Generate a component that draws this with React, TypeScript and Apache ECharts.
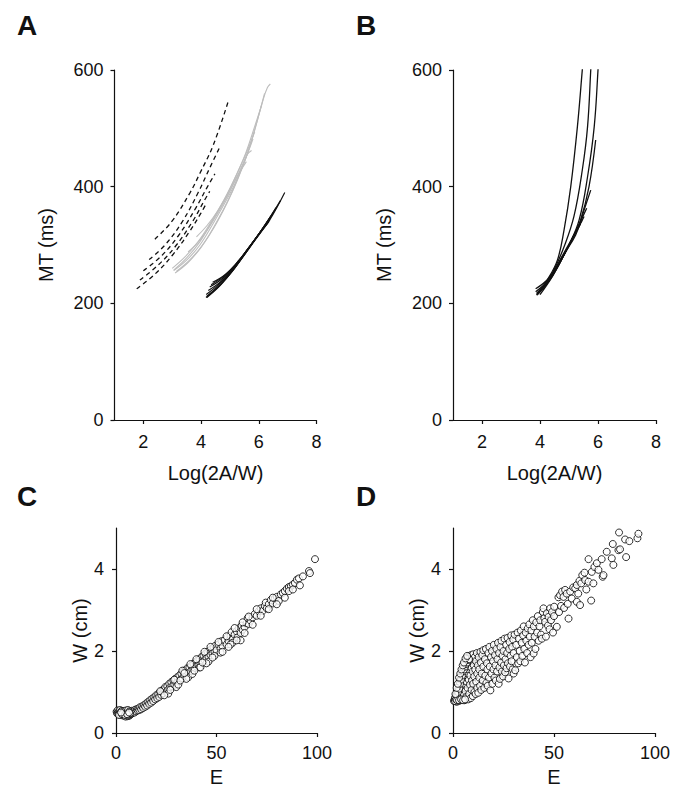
import React, { useEffect, useRef } from "react";
import * as echarts from "echarts";

const FONT = "'Liberation Sans', Arial, Helvetica, sans-serif";
const INK = "#111111";

// ---- Tick values ----
const mtTicks = [0, 200, 400, 600];
const logTicks = [2, 4, 6, 8];
const wTicks = [0, 2, 4];
const eTicks = [0, 50, 100];

// ---- Panel A: dashed curves [Log(2A/W), MT] ----
const aDashed1 = [[2.4, 310], [2.98, 340], [3.61, 389], [3.96, 423], [4.42, 471], [4.94, 546]];
const aDashed2 = [[2.2, 275], [2.75, 300], [3.35, 340], [3.9, 390], [4.3, 432], [4.65, 468]];
const aDashed3 = [[2.0, 256], [2.6, 280], [3.2, 315], [3.8, 362], [4.2, 398], [4.48, 422]];
const aDashed4 = [[1.88, 240], [2.5, 265], [3.1, 297], [3.7, 340], [4.1, 375], [4.3, 392]];
const aDashed5 = [[1.77, 225], [2.4, 250], [3.0, 282], [3.6, 323], [4.0, 355], [4.19, 372]];

// ---- Panel A: gray curves ----
const aGray1 = [[3.05, 256], [3.5, 274], [3.96, 300], [4.42, 337], [4.88, 377], [5.23, 411], [5.57, 451], [5.86, 497], [6.15, 549], [6.3, 570], [6.4, 576]];
const aGray2 = [[3.1, 252], [3.55, 270], [4.0, 296], [4.45, 330], [4.9, 372], [5.25, 410], [5.6, 456], [5.9, 505], [6.2, 560]];
const aGray3 = [[3.0, 260], [3.45, 280], [3.9, 306], [4.35, 340], [4.8, 378], [5.15, 412], [5.5, 450], [5.86, 494]];
const aGray4 = [[3.15, 255], [3.6, 274], [4.05, 300], [4.5, 336], [4.95, 378], [5.3, 418], [5.6, 455], [5.75, 462]];
const aGray5 = [[3.55, 288], [3.95, 308], [4.4, 340], [4.85, 378], [5.2, 413], [5.57, 443]];
const aGray6 = [[3.84, 314], [4.2, 333], [4.6, 360], [5.0, 393], [5.35, 428], [5.65, 462], [5.8, 482]];
const aGray7 = [[3.05, 257], [3.5, 278], [3.95, 305], [4.4, 342], [4.85, 382], [5.2, 418], [5.55, 458], [5.85, 502], [6.1, 540]];

// ---- Panel A: solid black curves ----
const aBlack1 = [[4.17, 210], [4.65, 231], [5.11, 257], [5.69, 297], [6.03, 320], [6.38, 343], [6.9, 390]];
const aBlack2 = [[4.2, 212], [4.7, 234], [5.15, 260], [5.7, 298], [6.1, 325], [6.38, 343]];
const aBlack3 = [[4.25, 222], [4.7, 238], [5.15, 262], [5.6, 292], [6.0, 318], [6.3, 338]];
const aBlack4 = [[4.3, 228], [4.75, 243], [5.2, 266], [5.65, 295], [6.05, 322], [6.4, 348]];
const aBlack5 = [[4.35, 232], [4.8, 247], [5.25, 270], [5.7, 298], [6.1, 326], [6.5, 355]];
const aBlack6 = [[4.4, 236], [4.85, 250], [5.3, 273], [5.75, 302], [6.2, 333], [6.6, 364]];
const aBlack7 = [[4.18, 215], [4.6, 232], [5.05, 255], [5.5, 283], [5.95, 315], [6.35, 344], [6.75, 376]];
const aBlack8 = [[4.2, 210], [4.65, 230], [5.1, 256], [5.6, 290], [6.0, 317], [6.35, 340]];

// ---- Panel B: black curves ----
const bCurve1 = [[3.88, 214], [4.25, 240], [4.6, 274], [4.83, 326], [5.06, 400], [5.29, 503], [5.46, 601], [5.5, 625]];
const bCurve2 = [[3.9, 216], [4.2, 232], [4.48, 257], [4.83, 297], [5.17, 349], [5.46, 429], [5.64, 503], [5.75, 600], [5.78, 630]];
const bCurve3 = [[3.92, 218], [4.3, 238], [4.6, 262], [5.0, 300], [5.35, 343], [5.64, 417], [5.87, 503], [6.0, 600], [6.02, 625]];
const bCurve4 = [[3.85, 220], [4.3, 240], [4.7, 272], [5.06, 305], [5.4, 343], [5.69, 400], [5.92, 480]];
const bCurve5 = [[3.9, 214], [4.3, 238], [4.77, 280], [5.23, 317], [5.52, 360], [5.75, 394]];
const bCurve6 = [[3.95, 218], [4.4, 245], [4.85, 285], [5.25, 325], [5.61, 363]];
const bCurve7 = [[3.85, 225], [4.3, 243], [4.8, 282], [5.2, 318], [5.52, 349]];
const bCurve8 = [[4.0, 215], [4.45, 248], [4.9, 290], [5.2, 320], [5.45, 342]];
const bCurve9 = [[3.88, 217], [4.35, 244], [4.8, 284], [5.15, 315], [5.4, 336]];

// ---- Panel C: [E, W (cm)] ----
const cPoints = [
  [0.3, 0.52], [0.5, 0.48], [0.8, 0.55], [1, 0.5], [1.2, 0.46], [1.5, 0.53], [1.8, 0.49], [2, 0.56], [2.2, 0.45], [2.5, 0.52],
  [2.8, 0.47], [3, 0.54], [3.2, 0.43], [3.5, 0.5], [3.8, 0.45], [4, 0.53], [4.2, 0.42], [4.5, 0.48], [4.8, 0.4], [5, 0.55],
  [5.2, 0.44], [5.5, 0.5], [5.8, 0.41], [6, 0.56], [6.2, 0.46], [6.5, 0.42], [6.8, 0.53], [7, 0.44], [7.2, 0.5], [7.5, 0.46],
  [7.8, 0.54], [8, 0.48], [8.3, 0.52], [8.6, 0.5], [9, 0.55], [9.3, 0.5], [9.6, 0.57], [10, 0.53], [10.4, 0.58], [10.8, 0.55],
  [11.2, 0.6], [11.6, 0.56], [12, 0.63], [12.5, 0.58], [13, 0.65], [13.5, 0.61], [14, 0.68], [14.5, 0.64], [15, 0.72], [15.5, 0.67],
  [16, 0.76], [16.5, 0.71], [17, 0.8], [17.5, 0.74], [18, 0.84], [18.5, 0.78], [19, 0.87], [19.5, 0.82], [20, 0.92], [20.5, 0.85],
  [21, 0.95], [21.5, 0.88], [22, 1.0], [22.5, 0.93], [23, 1.04], [23.5, 0.97], [24, 1.07], [24.5, 1.12], [25, 1.0], [25.5, 1.14],
  [26, 1.06], [26.5, 1.2], [27, 1.12], [27.5, 1.24], [28, 1.14], [28.5, 1.28], [29, 1.18], [29.5, 1.32], [30, 1.22], [30.5, 1.36],
  [31, 1.26], [31.5, 1.4], [32, 1.3], [32.5, 1.45], [33, 1.34], [33.5, 1.5], [34, 1.38], [34.5, 1.53], [35, 1.42], [35.5, 1.58],
  [36, 1.46], [36.5, 1.6], [37, 1.5], [37.5, 1.64], [38, 1.54], [38.5, 1.69], [39, 1.58], [39.5, 1.73], [40, 1.62], [40.5, 1.77],
  [41, 1.66], [41.5, 1.8], [42, 1.7], [42.5, 1.85], [43, 1.76], [43.5, 1.89], [44, 1.78], [44.5, 1.93], [45, 1.82], [45.5, 1.98],
  [46, 1.86], [46.5, 2.01], [47, 1.9], [47.5, 2.05], [48, 1.94], [48.5, 2.09], [49, 1.98], [49.5, 2.13], [50, 2.02], [51, 2.16],
  [52, 2.06], [52.5, 2.24], [53, 2.12], [54, 2.26], [55, 2.16], [55.5, 2.34], [56, 2.24], [57, 2.37], [57.5, 2.46], [58, 2.28],
  [59, 2.4], [60, 2.48], [60.5, 2.33], [61, 2.55], [62, 2.44], [62.5, 2.62], [63, 2.52], [64, 2.58], [65, 2.68], [65.5, 2.8],
  [66, 2.66], [67, 2.74], [68, 2.82], [69, 2.9], [70, 2.86], [71, 2.97], [72, 3.04], [73, 2.98], [74, 3.1], [74.5, 3.18],
  [75, 3.04], [76, 3.14], [77, 3.24], [78, 3.16], [79, 3.28], [80, 3.32], [81, 3.22], [82, 3.38], [83, 3.42], [84, 3.46],
  [85, 3.52], [86, 3.56], [87, 3.58], [88, 3.62], [89, 3.66], [90, 3.74], [91, 3.77], [91.5, 3.6], [93, 3.82], [96, 3.95],
  [96.5, 3.9], [99, 4.24], [41.5, 1.6], [46, 1.74], [52, 1.96], [58, 2.2], [62, 2.26], [36, 1.36], [30, 1.12], [26, 0.96],
  [22, 1.02], [24, 0.92], [27, 1.05], [29, 1.3], [31, 1.18], [33, 1.52], [35, 1.32], [37, 1.68], [38, 1.44], [40, 1.8],
  [42, 1.6], [44, 1.98], [45, 1.7], [47, 2.1], [49, 1.88], [51, 2.22], [53, 1.98], [55, 2.36], [57, 2.16], [59, 2.56],
  [60, 2.26], [63, 2.7], [64, 2.44], [66, 2.84], [68, 2.64], [70, 3.02], [72, 2.86], [76, 3.02], [78, 3.3], [80, 3.14],
  [84, 3.3], [86, 3.46], [88, 3.5], [32, 1.28], [34, 1.46], [39, 1.52], [43, 1.72], [48, 1.84], [56, 2.1],
  [1.5, 0.44], [3, 0.46], [4.5, 0.44], [6, 0.45], [7, 0.48], [5.5, 0.46], [2.5, 0.5], [6.5, 0.5]
];

// ---- Panel D: [E, W (cm)] ----
const dPoints = [
  [0.5, 0.78], [0.8, 0.82], [1, 0.86], [1.2, 0.8], [1.5, 0.92], [1.8, 0.76], [2, 0.98], [2.2, 0.84], [2.5, 1.05], [2.6, 0.9],
  [2.8, 0.78], [3, 1.15], [3.1, 1.0], [3.3, 1.25], [3.4, 0.88], [3.6, 1.1], [3.8, 1.32], [3.9, 0.8], [4, 1.42], [4.2, 1.2],
  [4.3, 1.0], [4.5, 1.5], [4.6, 0.85], [4.8, 1.3], [5, 1.58], [5, 1.1], [5.2, 0.92], [5.4, 1.45], [5.5, 1.62], [5.6, 1.2],
  [5.8, 0.8], [6, 1.7], [6, 1.35], [6.2, 1.02], [6.4, 1.55], [6.5, 1.75], [6.6, 0.88], [6.8, 1.25], [7, 1.8], [7, 1.45],
  [7.2, 1.1], [7.4, 1.65], [7.5, 0.82], [7.6, 1.85], [7.8, 1.3], [8, 1.55], [8, 0.95], [8.2, 1.88], [8.4, 1.18], [8.5, 1.72],
  [8.6, 1.4], [8.8, 0.85], [9, 1.9], [9, 1.6], [9.2, 1.05], [9.4, 1.28], [9.5, 1.78], [9.7, 1.5], [9.8, 0.9], [10, 1.92],
  [10, 1.2], [10.3, 1.65], [10.5, 1.38], [10.6, 1.0], [10.8, 1.85], [11, 1.55], [11.2, 0.95], [11.4, 1.75], [11.5, 1.25], [11.8, 1.95],
  [12, 1.45], [12, 1.1], [12.3, 1.65], [12.5, 0.98], [12.7, 1.85], [13, 1.35], [13, 1.55], [13.4, 1.15], [13.6, 1.98], [13.8, 1.72],
  [14, 1.05], [14.2, 1.45], [14.5, 1.9], [14.7, 1.28], [15, 1.62], [15, 2.02],
  [1, 0.78], [1.5, 0.82], [2, 0.9], [2.5, 1.0], [3, 1.08], [3.5, 1.2], [4, 1.3], [4.5, 1.4], [5, 1.5], [5.5, 1.55],
  [6, 1.62], [6.5, 1.68], [7, 1.72], [7.5, 1.78], [8, 1.8], [2, 0.8], [3, 0.8], [4, 0.82], [5, 0.8], [6, 0.82],
  [1.2, 0.95], [1.8, 1.1], [2.4, 1.2], [3, 1.35], [3.6, 1.45], [4.2, 1.55], [4.8, 1.65], [5.4, 1.72], [6.2, 1.82], [7, 1.88],
  [15.5, 1.1], [15.8, 1.8], [16, 1.4], [16.3, 2.05], [16.5, 1.22], [16.8, 1.7], [17, 1.55], [17.2, 1.15], [17.5, 1.95], [17.8, 1.35],
  [18, 2.1], [18.2, 1.62], [18.5, 1.04], [18.8, 1.85], [19, 1.45], [19.3, 2.0], [19.5, 1.2], [19.8, 1.75], [20, 1.55], [20.2, 2.15],
  [20.5, 1.35], [20.8, 1.9], [21, 1.65], [21.2, 1.28], [21.5, 2.05], [21.8, 1.5], [22, 1.8], [22.3, 2.2], [22.6, 1.2], [22.8, 1.95],
  [23, 1.6], [23.2, 1.32], [23.5, 2.1], [23.8, 1.72], [24, 2.25], [24.2, 1.5], [24.5, 1.88], [24.8, 1.38], [25, 2.0], [25.2, 1.65],
  [25.5, 2.3], [25.8, 1.48], [26, 1.8], [26.3, 2.15], [26.5, 1.58], [26.8, 1.95], [27, 2.32], [27.2, 1.7], [27.5, 1.33], [27.8, 2.05],
  [28, 2.22], [28.2, 1.62], [28.5, 1.88], [28.8, 2.38], [29, 1.75], [29.3, 2.1], [29.5, 1.55], [29.8, 2.28], [30, 1.45], [30, 1.95],
  [30.5, 2.4], [30.8, 1.53], [31.3, 2.15], [31.6, 1.85], [32, 2.45], [32.3, 1.7], [32.6, 2.3], [33, 2.0], [33.3, 1.75], [33.6, 2.5],
  [34, 2.2], [34.3, 1.88], [34.7, 2.38], [35, 2.6], [35.3, 2.05], [35.6, 1.72], [36, 2.45], [36.3, 2.25], [36.7, 1.95], [37, 2.55],
  [37.4, 2.15], [37.8, 2.65], [38, 2.35], [38.4, 1.85], [38.8, 2.5], [39, 2.2], [39.5, 2.75], [39.9, 1.94], [40, 2.6], [40.4, 2.35],
  [40.8, 2.05], [41.2, 2.7], [41.6, 2.45], [42, 2.85], [42.4, 2.25], [42.8, 2.6], [43.2, 2.75], [43.6, 2.4], [44, 2.3], [44.5, 2.95],
  [44.8, 3.04], [45.2, 2.8], [45.6, 2.71], [46, 2.35], [46.5, 2.92], [47, 2.62], [47.3, 2.83], [47.8, 2.53], [48.1, 3.04], [48.5, 2.75],
  [49, 2.95], [49.5, 2.45], [50.1, 3.08], [50, 2.85], [51.4, 2.59], [52.2, 3.31], [52.5, 2.95], [53, 3.36], [53.5, 3.1], [54, 3.45],
  [54.7, 3.32], [55, 3.05], [55.5, 3.49], [56.3, 3.4], [56.8, 3.15], [57.2, 2.79], [58, 3.45], [58.8, 3.28], [59.5, 3.55], [60.5, 3.53],
  [61.3, 3.2], [61.3, 3.61], [62, 3.4], [62.6, 3.71], [62.9, 3.12], [63.5, 3.65], [64, 3.85], [65.1, 3.91], [65.4, 3.73], [66, 3.5],
  [67.1, 3.69], [67.1, 4.24], [68.4, 3.23], [68.7, 3.93], [69.5, 3.65], [70, 4.05], [71.2, 4.14], [72, 3.98], [73.6, 4.24], [74.1, 3.81],
  [74.5, 3.85], [76.1, 4.42], [78.6, 4.26], [79.1, 4.61], [79.4, 4.1], [81.9, 4.46], [82.2, 4.89], [82.7, 4.48], [85.2, 4.72], [85.7, 4.29],
  [87.3, 4.68], [91.3, 4.75], [91.8, 4.86]
];

function axisFor(gridIndex: number, min: number, max: number, ticks: number[], name: string, margin: number, nameGap: number) {
  return {
    type: "value", gridIndex, min, max, name, nameLocation: "middle", nameGap,
    nameTextStyle: { fontSize: 20, fontFamily: FONT, color: INK },
    axisLine: { show: true, onZero: false, lineStyle: { color: "#111", width: 1.2 } },
    axisTick: { show: true, length: 4, customValues: ticks, lineStyle: { color: "#111", width: 1.2 } },
    axisLabel: { customValues: ticks, fontSize: 18, fontFamily: FONT, color: INK, margin },
    splitLine: { show: false },
  };
}

function lineSeries(data: number[][], axis: number, color: string, type: any, width: number) {
  return {
    type: "line", xAxisIndex: axis, yAxisIndex: axis, data, symbol: "none", showSymbol: false,
    smooth: 0.4, silent: true, clip: true,
    lineStyle: { color, width, type },
  };
}

function scatterSeries(data: number[][], axis: number) {
  return {
    type: "scatter", xAxisIndex: axis, yAxisIndex: axis, data, symbol: "circle", symbolSize: 7, silent: true,
    itemStyle: { color: "#ffffff", borderColor: "#000", borderWidth: 1 },
  };
}

export default function App() {
  const ref = useRef<HTMLDivElement>(null);
  useEffect(() => {
    if (!ref.current) return;
    const chart = echarts.init(ref.current, null, { renderer: "svg" });
    const dash = [4.5, 3.5];
    const gray = "#bdbdbd";
    const black = "#111111";
    const grays = [aGray1, aGray2, aGray3, aGray4, aGray5, aGray6, aGray7];
    const dashes = [aDashed1, aDashed2, aDashed3, aDashed4, aDashed5];
    const blacks = [aBlack1, aBlack2, aBlack3, aBlack4, aBlack5, aBlack6, aBlack7, aBlack8];
    const bCurves = [bCurve1, bCurve2, bCurve3, bCurve4, bCurve5, bCurve6, bCurve7, bCurve8, bCurve9];
    const labelStyle = { fontSize: 28, fontWeight: "bold", fontFamily: FONT, fill: INK };
    const option = {
      animation: false,
      backgroundColor: "#ffffff",
      grid: [
        { left: 114.5, top: 70, width: 202, height: 350 },
        { left: 453, top: 70, width: 203, height: 350 },
        { left: 116, top: 528, width: 201, height: 205 },
        { left: 453, top: 528, width: 202, height: 205 },
      ],
      xAxis: [
        axisFor(0, 1, 8, logTicks, "Log(2A/W)", 13, 43),
        axisFor(1, 1, 8, logTicks, "Log(2A/W)", 13, 43),
        axisFor(2, 0, 100, eTicks, "E", 11, 34),
        axisFor(3, 0, 100, eTicks, "E", 11, 34),
      ],
      yAxis: [
        axisFor(0, 0, 600, mtTicks, "MT (ms)", 11, 59),
        axisFor(1, 0, 600, mtTicks, "MT (ms)", 11, 59),
        axisFor(2, 0, 5, wTicks, "W (cm)", 12, 24),
        axisFor(3, 0, 5, wTicks, "W (cm)", 12, 24),
      ],
      graphic: [
        { type: "text", left: 17, top: 11, style: { text: "A", ...labelStyle } },
        { type: "text", left: 356, top: 11, style: { text: "B", ...labelStyle } },
        { type: "text", left: 17, top: 482, style: { text: "C", ...labelStyle } },
        { type: "text", left: 356, top: 482, style: { text: "D", ...labelStyle } },
      ],
      series: [
        ...grays.map((d) => lineSeries(d, 0, gray, "solid", 1.1)),
        ...dashes.map((d) => lineSeries(d, 0, black, dash, 1.3)),
        ...blacks.map((d) => lineSeries(d, 0, black, "solid", 1.2)),
        ...bCurves.map((d) => lineSeries(d, 1, black, "solid", 1.3)),
        scatterSeries(cPoints, 2),
        scatterSeries(dPoints, 3),
      ],
    };
    chart.setOption(option as any);
    return () => chart.dispose();
  }, []);
  return (
    <div style={{ position: "absolute", left: 0, top: 0, width: 675, height: 792, background: "#fff" }}>
      <div ref={ref} style={{ width: 675, height: 792 }} />
    </div>
  );
}
